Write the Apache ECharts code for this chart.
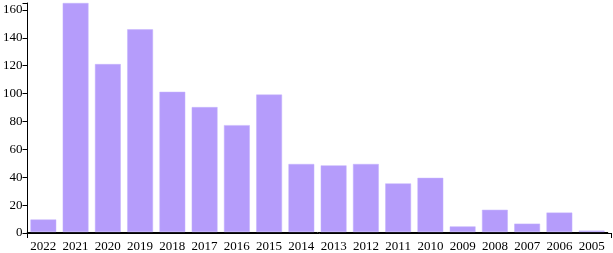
<!DOCTYPE html>
<html><head><meta charset="utf-8">
<script src="https://cdn.jsdelivr.net/npm/echarts@6/dist/echarts.min.js"></script>
<style>html,body{margin:0;padding:0;background:#fff}#c{width:613px;height:253px}</style>
</head><body><div id="c"></div>
<script>
const categories = ["2022","2021","2020","2019","2018","2017","2016","2015","2014","2013","2012","2011","2010","2009","2008","2007","2006","2005"];
const values = [9,165,121,146,101,90,77,99,49,48,49,35,39,4,16,6,14,1];
const yTicks = [0,20,40,60,80,100,120,140,160];
const yMax = 165;

// d3-style band layout: outer padding 0.2, inner padding 0.2
const axisLeft = 24, axisRight = 611, W = 613;
const n = categories.length;
const step = (axisRight - axisLeft) / (n - 0.2 + 0.4);
const gridLeft = axisLeft + 0.1 * step;
const gridRight = W - (axisRight - 0.1 * step);

const chart = echarts.init(document.getElementById('c'), null, {renderer:'canvas'});
const font = {fontFamily:'Liberation Serif', fontSize:13, color:'#000'};
chart.setOption({
  animation:false,
  grid:[
    {left:gridLeft,right:gridRight,top:3,bottom:20,containLabel:false},
    {left:axisLeft,right:W-axisRight,top:3,bottom:20,containLabel:false}
  ],
  xAxis:[
    {type:'category',data:categories,gridIndex:0,
      axisLine:{lineStyle:{color:'#000',width:1}},
      axisTick:{alignWithLabel:true,length:5,lineStyle:{color:'#000'}},
      axisLabel:Object.assign({margin:8,interval:0},font)},
    {type:'value',gridIndex:1,min:0,max:1,
      splitLine:{show:false},
      axisLine:{show:true,lineStyle:{color:'#000',width:1}},
      axisTick:{show:true,length:5,customValues:[0,1],lineStyle:{color:'#000'}},
      axisLabel:{show:false}}
  ],
  yAxis:[
    {type:'value',gridIndex:0,min:0,max:yMax,show:false},
    {type:'value',gridIndex:1,min:0,max:yMax,
      splitLine:{show:false},
      axisLine:{show:true,lineStyle:{color:'#000',width:1}},
      axisTick:{show:true,length:5,customValues:yTicks.concat([yMax]),lineStyle:{color:'#000'}},
      axisLabel:Object.assign({margin:5,customValues:yTicks},font)}
  ],
  series:[{type:'bar',data:values,xAxisIndex:0,yAxisIndex:0,barCategoryGap:'20%',
    itemStyle:{color:'#b59cfb',borderColor:'#c4b2fc',borderWidth:0.5}}]
});
</script></body></html>
